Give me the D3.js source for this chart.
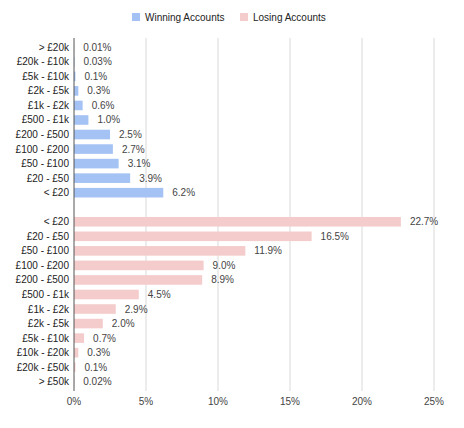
<!DOCTYPE html>
<html>
<head>
<meta charset="utf-8">
<script src="https://cdn.jsdelivr.net/npm/d3@7"></script>
<style>
  body { margin: 0; background: #fff; }
  text { font-family: "Liberation Sans", Arial, sans-serif; }
</style>
</head>
<body>
<div id="chart"></div>
<script>
// Data (percent of accounts)
var winningLabels = ["> £20k", "£20k - £10k", "£5k - £10k", "£2k - £5k", "£1k - £2k", "£500 - £1k",
    "£200 - £500", "£100 - £200", "£50 - £100", "£20 - £50", "< £20"];
var winningValues = [0.01, 0.03, 0.1, 0.3, 0.6, 1.0, 2.5, 2.7, 3.1, 3.9, 6.2];

var losingLabels = ["< £20", "£20 - £50", "£50 - £100", "£100 - £200", "£200 - £500", "£500 - £1k",
    "£1k - £2k", "£2k - £5k", "£5k - £10k", "£10k - £20k", "£20k - £50k", "> £50k"];
var losingValues = [22.7, 16.5, 11.9, 9.0, 8.9, 4.5, 2.9, 2.0, 0.7, 0.3, 0.1, 0.02];

var xTicks = [0, 5, 10, 15, 20, 25];
var seriesNames = ["Winning Accounts", "Losing Accounts"];
var colors = ["#a4c2f4", "#f4cccc"];

var width = 464, height = 428;

var svg = d3.select("#chart")
    .append("svg")
    .attr("width", width)
    .attr("height", height);

// one row per bar, with an empty slot between the two groups
var rows = winningLabels.map(function(l, i) {
        return { key: "w" + i, label: l, value: winningValues[i], series: 0 };
    })
    .concat([{ key: "gap", label: "", value: null, series: -1 }])
    .concat(losingLabels.map(function(l, i) {
        return { key: "l" + i, label: l, value: losingValues[i], series: 1 };
    }));
var bars = rows.filter(function(d) { return d.series >= 0 });

var x = d3.scaleLinear().domain([0, 25]).range([74, 434]);
var y = d3.scaleBand()
    .domain(rows.map(function(d) { return d.key }))
    .range([40, 389])
    .paddingInner(0.34)
    .paddingOuter(0.17);

function fmt(v) {
    return (v >= 1 ? v.toFixed(1) : String(v)) + "%";
}

// Gridlines
svg.append("g")
    .selectAll("line")
    .data(xTicks.slice(1))
    .enter()
    .append("line")
    .attr("x1", function(d) { return x(d) })
    .attr("x2", function(d) { return x(d) })
    .attr("y1", 38)
    .attr("y2", 391)
    .attr("stroke", "#d9d9d9")
    .attr("stroke-width", 1);

// Bars
svg.append("g")
    .selectAll("rect")
    .data(bars)
    .enter()
    .append("rect")
    .attr("x", x(0))
    .attr("y", function(d) { return y(d.key) })
    .attr("width", function(d) { return x(d.value) - x(0) })
    .attr("height", y.bandwidth())
    .attr("fill", function(d) { return colors[d.series] });

// Zero axis line
svg.append("line")
    .attr("x1", x(0)).attr("x2", x(0))
    .attr("y1", 38).attr("y2", 391)
    .attr("stroke", "#555")
    .attr("stroke-width", 1);

// Value labels
svg.append("g")
    .selectAll("text")
    .data(bars)
    .enter()
    .append("text")
    .attr("x", function(d) { return x(d.value) + 9 })
    .attr("y", function(d) { return y(d.key) + y.bandwidth() / 2 })
    .attr("dy", "0.35em")
    .style("font-size", "10px")
    .style("fill", "#444")
    .text(function(d) { return fmt(d.value) });

// Category labels
svg.append("g")
    .selectAll("text")
    .data(bars)
    .enter()
    .append("text")
    .attr("x", 69)
    .attr("y", function(d) { return y(d.key) + y.bandwidth() / 2 })
    .attr("dy", "0.35em")
    .attr("text-anchor", "end")
    .style("font-size", "10px")
    .style("fill", "#222")
    .text(function(d) { return d.label });

// X axis tick labels
svg.append("g")
    .selectAll("text")
    .data(xTicks)
    .enter()
    .append("text")
    .attr("x", function(d) { return x(d) })
    .attr("y", 405)
    .attr("text-anchor", "middle")
    .style("font-size", "10px")
    .style("fill", "#444")
    .text(function(d) { return d + "%" });

// Legend
var legendX = [132, 240];
var legend = svg.append("g")
    .selectAll("g")
    .data(seriesNames)
    .enter()
    .append("g")
    .attr("transform", function(d, i) { return "translate(" + legendX[i] + ",13)" });
legend.append("rect")
    .attr("width", 8)
    .attr("height", 8)
    .attr("fill", function(d, i) { return colors[i] });
legend.append("text")
    .attr("x", 13)
    .attr("y", 4)
    .attr("dy", "0.35em")
    .style("font-size", "10px")
    .style("fill", "#222")
    .text(function(d) { return d });
</script>
</body>
</html>
